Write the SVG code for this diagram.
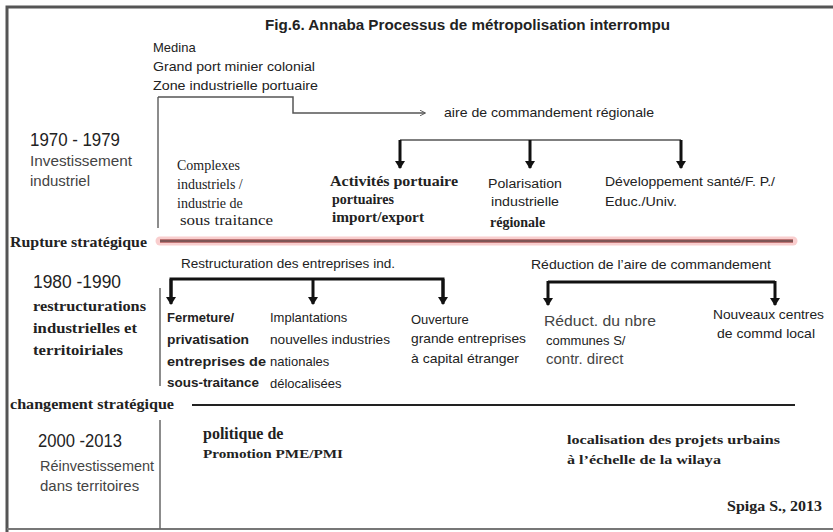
<svg xmlns="http://www.w3.org/2000/svg" width="833" height="532" viewBox="0 0 833 532">
<defs>
<style>
.s{font-family:"Liberation Sans",Arial,sans-serif;fill:#222}
.sb{font-family:"Liberation Sans",Arial,sans-serif;font-weight:bold;fill:#222}
.r{font-family:"Liberation Serif","Times New Roman",serif;fill:#222}
.rb{font-family:"Liberation Serif","Times New Roman",serif;font-weight:bold;fill:#222}
.g{font-family:"Liberation Sans",Arial,sans-serif;fill:#444}
.yr{font-family:"Liberation Sans",Arial,sans-serif;fill:#222;font-size:18px}
.thin{fill:none;stroke:#555;stroke-width:1.5}
.thick{fill:none;stroke:#111;stroke-width:3}
.sep{fill:none;stroke:#666;stroke-width:1.5}
</style>
<marker id="ah" viewBox="0 0 10 10" refX="9" refY="5" markerWidth="6" markerHeight="6" markerUnits="userSpaceOnUse" orient="auto">
<path d="M0,0 L10,5 L0,10" fill="none" stroke="#555" stroke-width="1.5"/>
</marker>
<marker id="big" viewBox="0 0 10 10" refX="5" refY="9" markerWidth="10" markerHeight="10" markerUnits="userSpaceOnUse" orient="0">
<path d="M0,2 L10,2 L5,10 Z" fill="#111"/>
</marker>
</defs>
<rect x="0" y="0" width="833" height="532" fill="#fff"/>
<g id="frame">
<path d="M7,532 L7,7 L833,7" fill="none" stroke="#555" stroke-width="3"/>
<path d="M7,529 L833,529" fill="none" stroke="#777" stroke-width="2"/>
</g>
<g id="title">
<text class="sb" x="265" y="30" font-size="14" textLength="405" lengthAdjust="spacingAndGlyphs">Fig.6. Annaba Processus de métropolisation interrompu</text>
</g>
<g id="origins">
<text class="s" x="153" y="52" font-size="13">Medina</text>
<text class="s" x="153" y="71" font-size="13" textLength="162" lengthAdjust="spacingAndGlyphs">Grand port minier colonial</text>
<text class="s" x="153" y="90" font-size="13" textLength="165" lengthAdjust="spacingAndGlyphs">Zone industrielle portuaire</text>
</g>
<g id="period1">
<text class="yr" x="30" y="146" textLength="90" lengthAdjust="spacingAndGlyphs">1970 - 1979</text>
<text class="g" x="30" y="166" font-size="15" textLength="102" lengthAdjust="spacingAndGlyphs">Investissement</text>
<text class="g" x="30" y="186" font-size="15">industriel</text>
</g>
<g id="aire">
<text class="s" x="444" y="117" font-size="13" textLength="210" lengthAdjust="spacingAndGlyphs">aire de commandement régionale</text>
</g>
<g id="complexes">
<text class="r" x="177" y="170" font-size="14">Complexes</text>
<text class="r" x="177" y="189" font-size="14">industriels /</text>
<text class="r" x="177" y="208" font-size="14">industrie de</text>
<text class="r" x="180" y="225" font-size="14" textLength="93" lengthAdjust="spacingAndGlyphs">sous traitance</text>
</g>
<g id="activites">
<text class="rb" x="330" y="186" font-size="14" textLength="128" lengthAdjust="spacingAndGlyphs">Activités portuaire</text>
<text class="rb" x="332" y="204" font-size="14">portuaires</text>
<text class="rb" x="332" y="222" font-size="14" textLength="92" lengthAdjust="spacingAndGlyphs">import/export</text>
</g>
<g id="polarisation">
<text class="s" x="488" y="188" font-size="12.5" textLength="74" lengthAdjust="spacingAndGlyphs">Polarisation</text>
<text class="s" x="491" y="206" font-size="12.5" textLength="68" lengthAdjust="spacingAndGlyphs">industrielle</text>
<text class="rb" x="490" y="227" font-size="14">régionale</text>
</g>
<g id="developpement">
<text class="s" x="605" y="186" font-size="13" textLength="170" lengthAdjust="spacingAndGlyphs">Développement santé/F. P./</text>
<text class="s" x="605" y="206" font-size="13" textLength="72" lengthAdjust="spacingAndGlyphs">Educ./Univ.</text>
</g>
<g id="rupture">
<text class="rb" x="10" y="247" font-size="15" textLength="137" lengthAdjust="spacingAndGlyphs">Rupture stratégique</text>
</g>
<g id="period2">
<text class="yr" x="33" y="288" textLength="88" lengthAdjust="spacingAndGlyphs">1980 -1990</text>
<text class="rb" x="33" y="311" font-size="15" textLength="113" lengthAdjust="spacingAndGlyphs">restructurations</text>
<text class="rb" x="33" y="333" font-size="15" textLength="104" lengthAdjust="spacingAndGlyphs">industrielles et</text>
<text class="rb" x="33" y="355" font-size="15" textLength="90" lengthAdjust="spacingAndGlyphs">territoiriales</text>
</g>
<g id="restructuration">
<text class="s" x="181" y="268" font-size="13" textLength="214" lengthAdjust="spacingAndGlyphs">Restructuration des entreprises ind.</text>
</g>
<g id="fermeture">
<text class="sb" x="167" y="322" font-size="13">Fermeture/</text>
<text class="sb" x="167" y="344" font-size="13" textLength="82" lengthAdjust="spacingAndGlyphs">privatisation</text>
<text class="sb" x="167" y="366" font-size="13" textLength="99" lengthAdjust="spacingAndGlyphs">entreprises de</text>
<text class="sb" x="167" y="387" font-size="13" textLength="92" lengthAdjust="spacingAndGlyphs">sous-traitance</text>
</g>
<g id="implantations">
<text class="s" x="270" y="322" font-size="13">Implantations</text>
<text class="s" x="270" y="344" font-size="13" textLength="120" lengthAdjust="spacingAndGlyphs">nouvelles industries</text>
<text class="s" x="270" y="366" font-size="13">nationales</text>
<text class="s" x="270" y="388" font-size="13">délocalisées</text>
</g>
<g id="ouverture">
<text class="s" x="411" y="324" font-size="13">Ouverture</text>
<text class="s" x="411" y="343" font-size="13" textLength="115" lengthAdjust="spacingAndGlyphs">grande entreprises</text>
<text class="s" x="411" y="363" font-size="13" textLength="108" lengthAdjust="spacingAndGlyphs">à capital étranger</text>
</g>
<g id="reduction">
<text class="s" x="531" y="269" font-size="13" textLength="240" lengthAdjust="spacingAndGlyphs">Réduction de l’aire de commandement</text>
</g>
<g id="reduct">
<text class="g" x="544" y="326" font-size="15" textLength="112" lengthAdjust="spacingAndGlyphs">Réduct. du nbre</text>
<text class="s" x="546" y="345" font-size="13">communes S/</text>
<text class="g" x="546" y="364" font-size="15">contr. direct</text>
</g>
<g id="nouveaux">
<text class="s" x="713" y="319" font-size="13" textLength="111" lengthAdjust="spacingAndGlyphs">Nouveaux centres</text>
<text class="s" x="717" y="338" font-size="13" textLength="98" lengthAdjust="spacingAndGlyphs">de commd local</text>
</g>
<g id="changement">
<text class="rb" x="10" y="409" font-size="14" textLength="164" lengthAdjust="spacingAndGlyphs">changement stratégique</text>
</g>
<g id="period3">
<text class="yr" x="38" y="447" textLength="84" lengthAdjust="spacingAndGlyphs">2000 -2013</text>
<text class="g" x="40" y="471" font-size="15" textLength="114" lengthAdjust="spacingAndGlyphs">Réinvestissement</text>
<text class="g" x="40" y="491" font-size="15">dans territoires</text>
</g>
<g id="politique">
<text class="rb" x="203" y="439" font-size="16">politique de</text>
<text class="rb" x="203" y="458" font-size="13" textLength="140" lengthAdjust="spacingAndGlyphs">Promotion PME/PMI</text>
</g>
<g id="localisation">
<text class="rb" x="567" y="444" font-size="13.5" textLength="213" lengthAdjust="spacingAndGlyphs">localisation des projets urbains</text>
<text class="rb" x="567" y="464" font-size="13.5" textLength="154" lengthAdjust="spacingAndGlyphs">à l’échelle de la wilaya</text>
</g>
<g id="source">
<text class="rb" x="727" y="511" font-size="14" textLength="95" lengthAdjust="spacingAndGlyphs">Spiga S., 2013</text>
</g>
<g id="connectors">
<path class="sep" d="M158,97 L158,228"/>
<path class="thin" d="M158,97 L293,97 L293,113 L425,113" marker-end="url(#ah)"/>
<path class="thin" d="M400,140 L681,140" stroke="#333"/>
<path class="thick" d="M400,140 L400,168" marker-end="url(#big)"/>
<path class="thick" d="M530,140 L530,168" marker-end="url(#big)"/>
<path class="thick" d="M681,140 L681,168" marker-end="url(#big)"/>
<path d="M160,241 L793,241" fill="none" stroke="#f6b9b9" stroke-width="9" stroke-linecap="round" opacity="0.7"/>
<path d="M160,241 L793,241" fill="none" stroke="#c07777" stroke-width="4"/>
<path d="M160,241 L793,241" fill="none" stroke="#6a4a4a" stroke-width="1.5"/>
<path class="thick" d="M171,300 L171,279 L443,279 L443,300"/>
<path class="thick" d="M171,279 L171,304" marker-end="url(#big)"/>
<path class="thick" d="M313,279 L313,304" marker-end="url(#big)"/>
<path class="thick" d="M443,279 L443,304" marker-end="url(#big)"/>
<path class="sep" d="M160,288 L160,386"/>
<path class="thick" d="M548,282 L775,282"/>
<path class="thick" d="M548,281 L548,305" marker-end="url(#big)"/>
<path class="thick" d="M775,281 L775,305" marker-end="url(#big)"/>
<path d="M192,405 L795,405" fill="none" stroke="#222" stroke-width="2"/>
<path class="sep" d="M160,420 L160,529"/>
</g>
</svg>
